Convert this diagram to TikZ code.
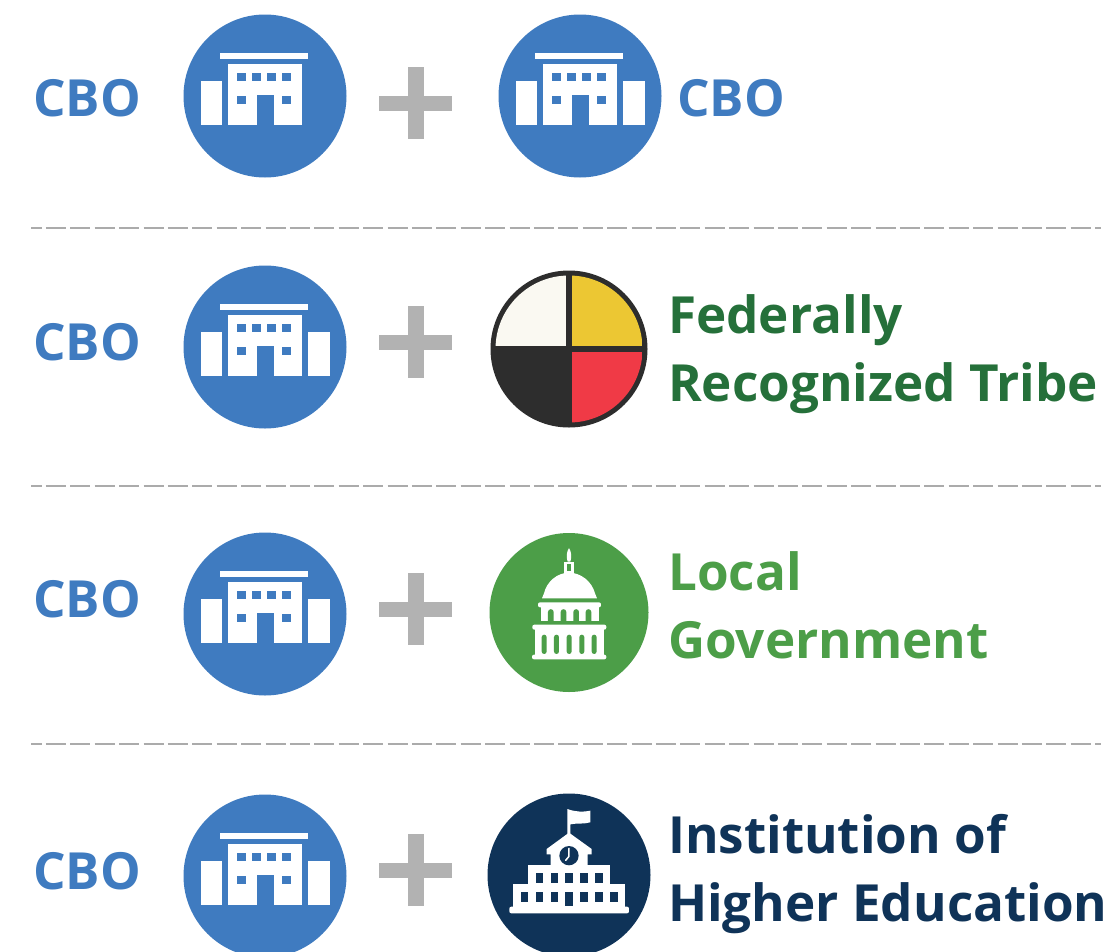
\documentclass[tikz,border=0pt]{standalone}
\usepackage{fontspec}
\setmainfont{Open Sans}
\definecolor{cboblue}{HTML}{3F7BC0}
\definecolor{plusgray}{HTML}{B2B2B2}
\definecolor{dashgray}{HTML}{ABABAB}
\definecolor{tribegreen}{HTML}{25703A}
\definecolor{govgreen}{HTML}{4C9E48}
\definecolor{navy}{HTML}{0F3358}
\definecolor{wheeldark}{HTML}{2D2D2D}
\definecolor{wheelwhite}{HTML}{FAF9F2}
\definecolor{wheelyellow}{HTML}{ECC733}
\definecolor{wheelred}{HTML}{F03A46}
\tikzset{
  lab/.style={anchor=base west,inner sep=0pt,font=\fontsize{51.2}{51.2}\selectfont\bfseries},
  cbolab/.style={lab,text=cboblue},
  sep/.style={draw=dashgray,line width=2.8pt,dash pattern=on 20pt off 4.4pt,dash phase=9.5pt},
  disc/.style={circle,inner sep=0pt,minimum size=163pt,fill=cboblue},
}
% icon building: #1 name, #2 centre x, #3 centre y, #4 right wing (1/0)
\newcommand{\cboicon}[4]{%
  \node[disc] (#1) at (#2,#3) {};
  \begin{scope}[shift={(#2,#3)}]
    \fill[white] (-45,-43) rectangle (43,-37);
    \fill[white] (-64,-15) rectangle (-43,29);
    \ifnum#4=1 \fill[white] (43,-15) rectangle (65,29);\fi
    \fill[white] (-37,-32) rectangle (37,29);
    \fill[cboblue] (-8,-1) rectangle (9,29.5);
    \foreach \wx in {-28,-13,2,17} \fill[cboblue] (\wx,-23) rectangle ++(9,8);
    \foreach \wx in {-28,17} \fill[cboblue] (\wx,0) rectangle ++(9,8);
  \end{scope}}
\newcommand{\plusicon}[3]{%
  \node[inner sep=0pt,minimum width=73pt,minimum height=15pt,fill=plusgray] (#1h) at (#2,#3) {};
  \node[inner sep=0pt,minimum width=16pt,minimum height=72pt,fill=plusgray] (#1v) at (#2,#3) {};}
\begin{document}
\begin{tikzpicture}[x=1pt,y=-1pt]
\useasboundingbox (0,0) rectangle (1111,951);
\clip (0,0) rectangle (1111,951);
\fill[white] (0,0) rectangle (1111,951);

% separators
\coordinate (s1a) at (31,228); \coordinate (s1b) at (1101,228);
\coordinate (s2a) at (31,486); \coordinate (s2b) at (1101,486);
\coordinate (s3a) at (31,744); \coordinate (s3b) at (1101,744);
\draw[sep] (s1a) -- (s1b);
\draw[sep] (s2a) -- (s2b);
\draw[sep] (s3a) -- (s3b);

% row 1
\node[cbolab] (c1) at (33,116) {CBO};
\cboicon{i1}{265}{96}{0}
\plusicon{p1}{415.5}{103}
\cboicon{j1}{580}{96}{1}
\node[cbolab] (c1b) at (677,116) {CBO};

% row 2
\node[cbolab] (c2) at (33,360) {CBO};
\cboicon{i2}{265}{347}{1}
\plusicon{p2}{415.5}{342}
\node[circle,inner sep=0pt,minimum size=157pt,fill=wheeldark] (wheel) at (569,349) {};
\begin{scope}
  \clip (569,349) circle (73.5);
  \fill[wheelwhite] (495,275) rectangle (566,345.5);
  \fill[wheelyellow] (572,275) rectangle (643,345.5);
  \fill[wheelred] (572,352) rectangle (643,423);
\end{scope}
\node[lab,text=tribegreen] (t2a) at (668,333) {Federally};
\node[lab,text=tribegreen] (t2b) at (668,401) {Recognized Tribe};

% row 3
\node[cbolab] (c3) at (33,617) {CBO};
\cboicon{i3}{265}{614}{1}
\plusicon{p3}{415.5}{609}
\node[circle,inner sep=0pt,minimum size=159pt,fill=govgreen] (gov) at (569,612.5) {};
\begin{scope}[shift={(480,520)},x=0.3333pt,y=-0.3333pt]
  \fill[white] (267,84) .. controls (274,95) and (276,110) .. (271,125) -- (263,125) .. controls (258,110) and (260,95) .. (267,84) -- cycle;
  \fill[white] (253,125) rectangle (281,160);
  \fill[govgreen] (262,133) rectangle (272,152);
  \fill[white] (186,235) -- (192,220) .. controls (200,185) and (232,158) .. (267,158) .. controls (303,158) and (336,185) .. (345,220) -- (351,235) -- cycle;
  \fill[white,rounded corners=2pt] (174,247) rectangle (363,262);
  \fill[white] (182,258) rectangle (357,304);
  \foreach \ax in {204,242,280,317}{
    \fill[govgreen] (\ax,303) -- (\ax,276) arc[start angle=180,end angle=360,radius=8.5] -- (\ax+17,303) -- cycle;}
  \fill[white,rounded corners=2pt] (157,314) rectangle (379,329);
  \fill[white] (165,325) rectangle (372,408);
  \foreach \ax in {185,222,260,298,335}{
    \fill[govgreen,rounded corners=2.5pt] (\ax,344) rectangle (\ax+15,402);}
  \fill[white,rounded corners=2pt] (156,404) rectangle (379,418);
\end{scope}
\node[lab,text=govgreen] (t3a) at (668,590) {Local};
\node[lab,text=govgreen] (t3b) at (668,658) {Government};

% row 4
\node[cbolab] (c4) at (33,889) {CBO};
\cboicon{i4}{265}{876}{1}
\plusicon{p4}{415.5}{870}
\node[circle,inner sep=0pt,minimum size=163pt,fill=navy] (ihe) at (569,875) {};
\begin{scope}[shift={(480,785)},x=0.3333pt,y=-0.3333pt]
  \fill[white] (262,150) -- (262,72) .. controls (285,80) and (305,82) .. (331,77) -- (331,112) .. controls (310,118) and (290,114) .. (271,118) -- (271,150) -- cycle;
  \fill[white] (267,143) -- (335,192) -- (335,208) -- (323,208) -- (323,245) -- (212,245) -- (212,208) -- (200,208) -- (200,192) -- cycle;
  \fill[white] (145,240) rectangle (390,300);
  \fill[white] (100,297) rectangle (435,370);
  \fill[white,rounded corners=2pt] (88,365) rectangle (447,385);
  \fill[navy] (267,212) circle[radius=29];
  \draw[white,line width=1.5pt,line cap=round] (267,190) -- (267,214) -- (257,226);
  \foreach \wx in {167,212,256,301,346} \fill[navy] (\wx,264) rectangle ++(23,31);
  \foreach \wx in {122,167,212,301,346,391} \fill[navy] (\wx,320) rectangle ++(23,32);
  \fill[navy] (256,320) rectangle ++(23,43);
\end{scope}
\node[lab,text=navy] (t4a) at (668,853) {Institution of};
\node[lab,text=navy] (t4b) at (668,921) {Higher Education};
\end{tikzpicture}
\end{document}
